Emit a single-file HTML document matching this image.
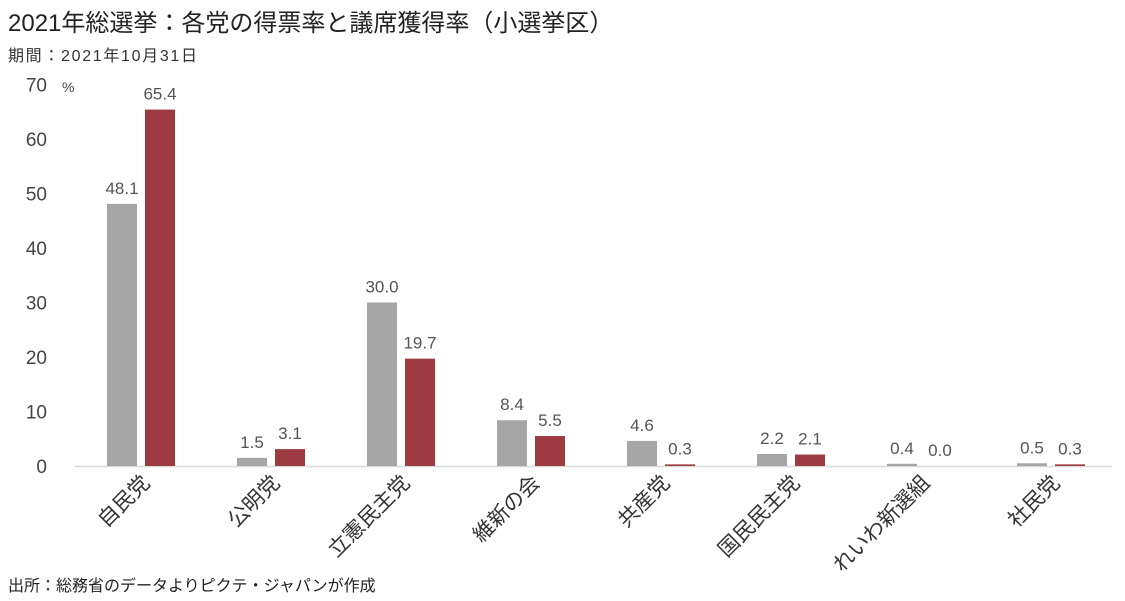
<!DOCTYPE html>
<html><head><meta charset="utf-8"><style>
body{margin:0;background:#fff;width:1125px;height:601px;overflow:hidden;font-family:"Liberation Sans","Noto Sans CJK JP",sans-serif;}
svg{position:absolute;left:0;top:0}
</style></head><body>
<svg width="1125" height="601">
<text x="8" y="31" font-size="24" fill="#222">2021年総選挙：各党の得票率と議席獲得率（小選挙区）</text>
<text x="8" y="61" font-size="16" fill="#333" textLength="189">期間：2021年10月31日</text>
<text x="62" y="92" font-size="14" fill="#444">%</text>
<text x="8" y="591" font-size="16" fill="#222">出所：総務省のデータよりピクテ・ジャパンが作成</text>
<g id="plot"></g>
</svg>
<script>
const categories=["自民党","公明党","立憲民主党","維新の会","共産党","国民民主党","れいわ新選組","社民党"];
const voteShare=[48.1,1.5,30.0,8.4,4.6,2.2,0.4,0.5];
const seatShare=[65.4,3.1,19.7,5.5,0.3,2.1,0.0,0.3];
const yTicks=[0,10,20,30,40,50,60,70];
const ns="http://www.w3.org/2000/svg";
const g=document.getElementById("plot");
const y0=466,pxPer=(466-84.5)/70;
const yS=v=>y0-v*pxPer;
const xC=i=>141+i*130;
function mk(t,a,txt){const e=document.createElementNS(ns,t);for(const k in a)e.setAttribute(k,a[k]);if(txt!==undefined)e.textContent=txt;g.appendChild(e);return e;}
yTicks.forEach(v=>{
const t=mk("text",{x:47,y:yS(v)+7,"text-anchor":"end","font-size":"19",fill:"#444"},v);


});
const base=mk("line",{x1:75,x2:1112,y1:y0+0.5,y2:y0+0.5,stroke:"#d9d9d9","stroke-width":1.5});


categories.forEach((c,i)=>{
const cx=xC(i);
[[voteShare[i],"#a6a6a6",cx-34],[seatShare[i],"#9e3a41",cx+4]].forEach(([v,col,x],k)=>{
const h=Math.max(v*pxPer,v>0?1.5:0);
const r=mk("rect",{x:x,y:y0-h,width:30,height:h,fill:col});


const l=mk("text",{x:x+15,y:yS(v)-10,"text-anchor":"middle","font-size":"17",fill:"#555"},v.toFixed(1));


});
const lx=cx+10,ly=484;
const t=mk("text",{x:lx,y:ly,"text-anchor":"end","font-size":"21",fill:"#333",transform:`rotate(-45 ${lx} ${ly})`},c);


});
</script>
</body></html>
